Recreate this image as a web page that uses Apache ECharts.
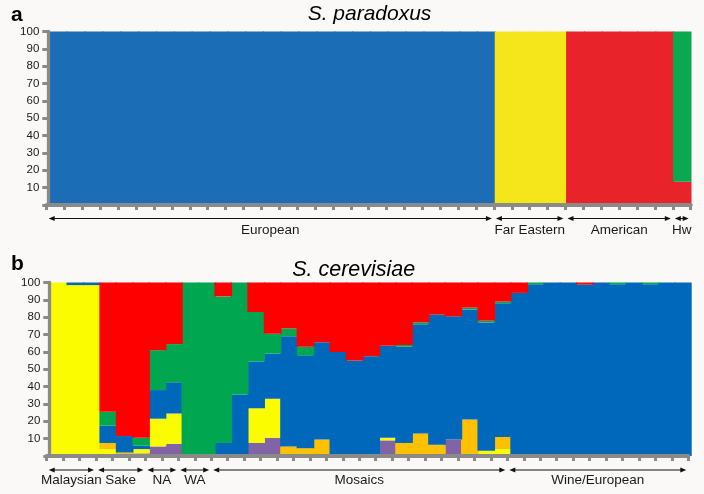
<!DOCTYPE html>
<html><head><meta charset="utf-8">
<script src="https://cdn.jsdelivr.net/npm/echarts@6/dist/echarts.min.js"></script>
<style>html,body{margin:0;padding:0;background:#faf9f7}#c{width:704px;height:494px}</style>
</head><body><div id="c"></div>
<script>
// ---------- Panel a: S. paradoxus (36 strain columns) ----------
const groupsA = ['European', 'Far Eastern', 'American', 'Hw'];
const groupSizesA = [25, 4, 6, 1];
const catsA = Array.from({length: 36}, (_, i) => 'P' + (i + 1));
const paraBlue   = [100,100,100,100,100,100,100,100,100,100,100,100,100,100,100,100,100,100,100,100,100,100,100,100,100,0,0,0,0,0,0,0,0,0,0,0];
const paraYellow = [0,0,0,0,0,0,0,0,0,0,0,0,0,0,0,0,0,0,0,0,0,0,0,0,0,100,100,100,100,0,0,0,0,0,0,0];
const paraRed    = [0,0,0,0,0,0,0,0,0,0,0,0,0,0,0,0,0,0,0,0,0,0,0,0,0,0,0,0,0,100,100,100,100,100,100,13.4];
const paraGreen  = [0,0,0,0,0,0,0,0,0,0,0,0,0,0,0,0,0,0,0,0,0,0,0,0,0,0,0,0,0,0,0,0,0,0,0,86.6];

// ---------- Panel b: S. cerevisiae (39 strain columns) ----------
const groupsB = ['Malaysian', 'Sake', 'NA', 'WA', 'Mosaics', 'Wine/European'];
const groupSizesB = [3, 3, 2, 2, 18, 11];
const catsB = Array.from({length: 39}, (_, i) => 'C' + (i + 1));
const cerPurple = [0,0,0,0,0,1.5,5.5,7,0,0,0,0,7.5,10.5,0,0,0,0,0,0,9,0,0,0,9.5,0,0,0,0,0,0,0,0,0,0,0,0,0,0];
const cerYellow = [100,98.5,98.5,4,0,2.5,16,17.5,0,0,0,0,20,22.5,0,0,0,0,0,0,1.5,0,0,0,0,0,3,4,0,0,0,0,0,0,0,0,0,0,0];
const cerOrange = [0,0,0,3.5,2,0,0,0,0,0,0,0,0,0,5.5,4.5,9.5,0,0,0,0,7.5,13,6.5,0,21,0,7,0,0,0,0,0,0,0,0,0,0,0];
const cerBlue   = [0,1.5,1.5,10,9.5,2,16.5,18,0,0,7.5,35.5,27,26,63.5,53.5,56,60,55,57.5,53,55.5,63,75,71,63.5,74,77,94,99,100,100,98.8,100,99,100,99,100,100];
const cerGreen  = [0,0,0,8,0,4.5,23,22,100,100,84.5,64.5,28.5,11.5,4.5,5,0,0,0,0,0,1,1,0,0,1,1,1,0,1,0,0,0,0,1,0,1,0,0];
const cerRed    = [0,0,0,74.5,88.5,89.5,39,35.5,0,0,8,0,17,29.5,26.5,37,34.5,40,45,42.5,36.5,36,23,18.5,19.5,14.5,22,11,6,0,0,0,1.2,0,0,0,0,0,0];

const AXIS = '#8a8a8a';
const FONT = '"Liberation Sans", Arial, Helvetica, sans-serif';

function barSeries(name, data, color, xi, stack, bw) {
  return {
    name, type: 'bar', stack, data: data.map(v => v === 0 ? null : v),
    xAxisIndex: xi, yAxisIndex: xi, barWidth: bw, barGap: '-100%',
    itemStyle: {color, borderWidth: 0}, emphasis: {disabled: true}, silent: true, animation: false
  };
}
function hiddenX(grid, data) {
  return {type: 'category', gridIndex: grid, data, boundaryGap: true, show: false};
}
function tickX(grid, data, offset) {
  return {type: 'category', gridIndex: grid, data, boundaryGap: true, offset, z: 10,
    axisLine: {show: true, lineStyle: {color: AXIS, width: 4}},
    axisTick: {show: true, interval: 0, length: 5, lineStyle: {color: AXIS, width: 3}},
    axisLabel: {show: false, interval: 0}, splitLine: {show: false}};
}
function shownY(grid, offset) {
  return {type: 'value', gridIndex: grid, min: 0, max: 100, interval: 10, offset, z: 10,
    axisLine: {show: true, lineStyle: {color: AXIS, width: 3.3}},
    axisTick: {show: true, length: 6, lineStyle: {color: AXIS, width: 3}},
    axisLabel: {margin: 9, fontSize: 11.5, color: '#1a1a1a', fontFamily: FONT,
      formatter: v => v === 0 ? '' : String(v)},
    splitLine: {show: false}};
}
function hiddenY(grid) {
  return {type: 'value', gridIndex: grid, min: 0, max: 100, interval: 10, show: false, splitLine: {show: false}};
}

const gridA = {left: 49.5, top: 31.5, width: 642, height: 173.5};
const gridB = {left: 50.7, top: 282.5, width: 641, height: 173.5};
const bwA = gridA.width / catsA.length + 1.2;
const bwB = gridB.width / catsB.length + 1.2;

const chart = echarts.init(document.getElementById('c'), null, {renderer: 'canvas'});
chart.setOption({
  backgroundColor: '#faf9f7',
  animation: false,
  grid: [
    gridA,
    {left: 46.7, top: 31.5, width: 644, height: 173.5},
    gridB,
    {left: 46.7, top: 282.5, width: 641.6, height: 173.5}
  ],
  xAxis: [hiddenX(0, catsA), tickX(1, catsA, 1.3), hiddenX(2, catsB), tickX(3, catsB, 0)],
  yAxis: [shownY(0, 1.2), hiddenY(1), shownY(2, 1.4), hiddenY(3)],
  series: [
    barSeries('European', paraBlue, '#1b6db5', 0, 'a', bwA),
    barSeries('Far Eastern', paraYellow, '#f5e61c', 0, 'a', bwA),
    barSeries('American', paraRed, '#e8232a', 0, 'a', bwA),
    barSeries('Hawaiian', paraGreen, '#0aa84f', 0, 'a', bwA),
    barSeries('Purple', cerPurple, '#8064a5', 2, 'b', bwB),
    barSeries('Yellow', cerYellow, '#fcfc00', 2, 'b', bwB),
    barSeries('Orange', cerOrange, '#ffc000', 2, 'b', bwB),
    barSeries('Blue', cerBlue, '#0068ba', 2, 'b', bwB),
    barSeries('Green', cerGreen, '#00a650', 2, 'b', bwB),
    barSeries('Red', cerRed, '#ff0000', 2, 'b', bwB)
  ]
});

function groupGraphics(xAxisIndex, cats, groups, sizes, yArrow, yLabel) {
  const els = [];
  const p0 = chart.convertToPixel({xAxisIndex}, cats[0]);
  const p1 = chart.convertToPixel({xAxisIndex}, cats[1]);
  const bw = p1 - p0;
  let start = 0;
  groups.forEach((g, i) => {
    const left = p0 - bw / 2 + start * bw + 2;
    const right = p0 - bw / 2 + (start + sizes[i]) * bw - 2;
    els.push({type: 'line', silent: true, shape: {x1: left + 4, y1: yArrow, x2: right - 4, y2: yArrow},
      style: {stroke: '#111', lineWidth: 1}});
    els.push({type: 'polygon', silent: true, shape: {points: [[left, yArrow], [left + 6, yArrow - 2.5], [left + 6, yArrow + 2.5]]},
      style: {fill: '#111'}});
    els.push({type: 'polygon', silent: true, shape: {points: [[right, yArrow], [right - 6, yArrow - 2.5], [right - 6, yArrow + 2.5]]},
      style: {fill: '#111'}});
    els.push({type: 'text', silent: true, x: (left + right) / 2, y: yLabel,
      style: {text: g, font: '13.5px ' + FONT, fill: '#1a1a1a', align: 'center', verticalAlign: 'middle'}});
    start += sizes[i];
  });
  return els;
}

const texts = [
  {type: 'text', silent: true, x: 11, y: 15, style: {text: 'a', font: 'bold 21px ' + FONT, fill: '#000', align: 'left', verticalAlign: 'middle'}},
  {type: 'text', silent: true, x: 11, y: 264.5, style: {text: 'b', font: 'bold 21px ' + FONT, fill: '#000', align: 'left', verticalAlign: 'middle'}},
  {type: 'text', silent: true, x: 369.5, y: 14, style: {text: 'S. paradoxus', font: 'italic 21px ' + FONT, fill: '#000', align: 'center', verticalAlign: 'middle'}},
  {type: 'text', silent: true, x: 353.7, y: 270.5, style: {text: 'S. cerevisiae', font: 'italic 21.5px ' + FONT, fill: '#000', align: 'center', verticalAlign: 'middle'}}
];

chart.setOption({
  graphic: [].concat(
    texts,
    groupGraphics(1, catsA, groupsA, groupSizesA, 218.5, 230.5),
    groupGraphics(3, catsB, groupsB, groupSizesB, 470, 480.5)
  )
});
</script>
</body></html>
